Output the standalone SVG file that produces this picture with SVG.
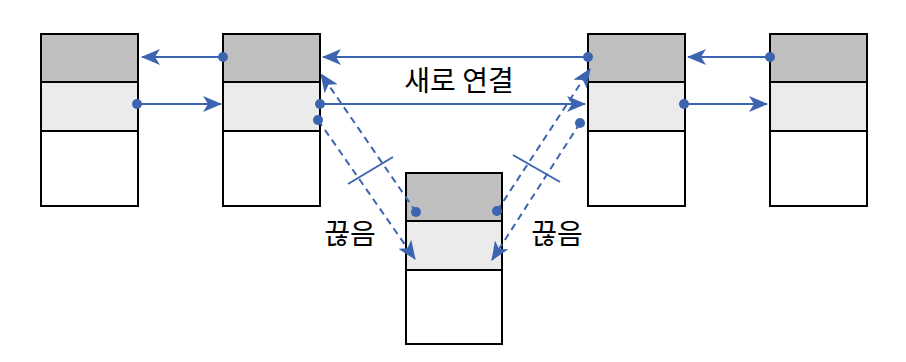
<svg xmlns="http://www.w3.org/2000/svg" width="906" height="362" viewBox="0 0 906 362">
<style>
.top{fill:#BEBFBE;stroke:#000;stroke-width:2}
.mid{fill:#EBEBEB;stroke:#000;stroke-width:2}
.bot{fill:#FFFFFF;stroke:#000;stroke-width:2}
.ln{stroke:#3C64B1;stroke-width:2;fill:none}
.dash{stroke:#3C64B1;stroke-width:2;fill:none;stroke-dasharray:7 5}
.dot{fill:#3C64B1}
.lbl{font-family:"Noto Sans CJK KR","Noto Sans",sans-serif;font-size:28px;fill:#000;text-anchor:middle}
</style>
<defs>
<marker id="ah" viewBox="0 0 19 16" refX="18" refY="8" markerWidth="19" markerHeight="16" markerUnits="userSpaceOnUse" orient="auto">
<path d="M0,0 L19,8 L0,16 L5,8 z" fill="#3C64B1"/>
</marker>
</defs>
<rect width="906" height="362" fill="#fff"/>
<g id="node1">
<rect class="bot" x="41" y="34" width="97" height="172"/>
<rect class="top" x="41" y="34" width="97" height="48"/>
<rect class="mid" x="41" y="82" width="97" height="49"/>
</g>
<g id="node2">
<rect class="bot" x="223" y="34" width="97" height="172"/>
<rect class="top" x="223" y="34" width="97" height="48"/>
<rect class="mid" x="223" y="82" width="97" height="49"/>
</g>
<g id="node3">
<rect class="bot" x="588" y="34" width="97" height="172"/>
<rect class="top" x="588" y="34" width="97" height="48"/>
<rect class="mid" x="588" y="82" width="97" height="49"/>
</g>
<g id="node4">
<rect class="bot" x="770" y="34" width="97" height="172"/>
<rect class="top" x="770" y="34" width="97" height="48"/>
<rect class="mid" x="770" y="82" width="97" height="49"/>
</g>
<g id="node5">
<rect class="bot" x="406" y="173" width="96" height="171"/>
<rect class="top" x="406" y="173" width="96" height="48"/>
<rect class="mid" x="406" y="221" width="96" height="49"/>
</g>
<g id="connectors">
<line class="ln" x1="223" y1="57" x2="142" y2="57" marker-end="url(#ah)"/>
<line class="ln" x1="137" y1="104" x2="221" y2="104" marker-end="url(#ah)"/>
<line class="ln" x1="588" y1="57" x2="323" y2="57" marker-end="url(#ah)"/>
<line class="ln" x1="320" y1="104" x2="585" y2="104" marker-end="url(#ah)"/>
<line class="ln" x1="770" y1="57" x2="688" y2="57" marker-end="url(#ah)"/>
<line class="ln" x1="684" y1="104" x2="767" y2="104" marker-end="url(#ah)"/>
<line class="dash" x1="318" y1="120" x2="415" y2="259" marker-end="url(#ah)"/>
<line class="dash" x1="416" y1="212" x2="321" y2="74" marker-end="url(#ah)"/>
<line class="dash" x1="497" y1="211" x2="590" y2="69" marker-end="url(#ah)"/>
<line class="dash" x1="580" y1="123" x2="492" y2="260" marker-end="url(#ah)"/>
<line class="ln" x1="348" y1="184" x2="393" y2="157"/>
<line class="ln" x1="513" y1="155" x2="560" y2="182"/>
<circle class="dot" cx="223" cy="57" r="5"/>
<circle class="dot" cx="137" cy="104" r="5"/>
<circle class="dot" cx="588" cy="57" r="5"/>
<circle class="dot" cx="320" cy="104" r="5"/>
<circle class="dot" cx="770" cy="57" r="5"/>
<circle class="dot" cx="684" cy="104" r="5"/>
<circle class="dot" cx="318" cy="120" r="5"/>
<circle class="dot" cx="416" cy="212" r="5"/>
<circle class="dot" cx="497" cy="211" r="5"/>
<circle class="dot" cx="580" cy="123" r="5"/>
</g>
<text class="lbl" x="459" y="91">새로 연결</text>
<text class="lbl" x="350" y="244">끊음</text>
<text class="lbl" x="557" y="244">끊음</text>
</svg>
